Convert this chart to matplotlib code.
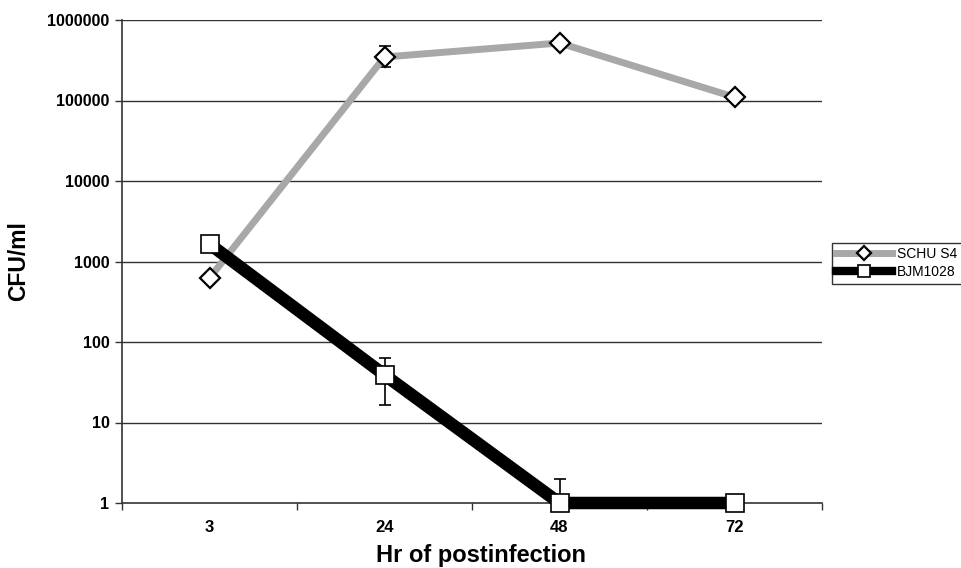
import matplotlib
matplotlib.use("Agg")
import matplotlib.pyplot as plt
import numpy as np

plt.rcParams['font.family'] = ['Liberation Sans', 'DejaVu Sans']

hours = ["3", "24", "48", "72"]
schu_vals = [624, 347000, 518000, 110000]
schu_err_lo = [0, 87000, 0, 0]
schu_err_hi = [0, 128000, 0, 0]
bjm_vals = [1650, 39, 1, 1]
bjm_err_lo = [0, 22.5, 0, 0]
bjm_err_hi = [0, 24, 1.0, 0]
yticks = [1, 10, 100, 1000, 10000, 100000, 1000000]

fig = plt.figure(figsize=(9.62, 5.68), dpi=100)
ax = fig.add_axes([122/962, 1-503/568, 700/962, 483/568])

x = np.arange(len(hours))
ax.set_yscale('log')
ax.set_ylim(1, 1e6)
ax.set_xlim(-0.5, len(hours)-0.5)

for yv in yticks[1:]:
    ax.axhline(yv, color='#333333', lw=1.0, zorder=1)

ax.errorbar(x, schu_vals, yerr=[schu_err_lo, schu_err_hi], fmt='none',
            ecolor='black', elinewidth=1.2, capsize=4.5, capthick=1.2, zorder=2)
ax.errorbar(x, bjm_vals, yerr=[bjm_err_lo, bjm_err_hi], fmt='none',
            ecolor='black', elinewidth=1.2, capsize=4.5, capthick=1.2, zorder=2)

l1, = ax.plot(x, schu_vals, color='#a8a8a8', lw=5, marker='D', ms=10.5,
              mfc='white', mec='black', mew=1.6, zorder=3, label='SCHU S4')
l2, = ax.plot(x, bjm_vals, color='black', lw=9, marker='s', ms=13,
              mfc='white', mec='black', mew=1.2, zorder=4, label='BJM1028')
l2.set_clip_on(False)
l1.set_clip_on(False)

ax.set_yticks(yticks)
ax.set_yticklabels([str(v) for v in yticks], fontsize=11.5, fontweight='bold')
ax.yaxis.set_minor_locator(matplotlib.ticker.NullLocator())
ax.tick_params(axis='y', direction='out', length=5, width=1, color='#333333', pad=4)

ax.set_xticks(np.arange(-0.5, len(hours), 1.0))
ax.set_xticklabels([])
ax.set_xticks(x, minor=True)
ax.set_xticklabels(hours, minor=True)
ax.tick_params(axis='x', which='major', direction='out', length=5, width=1, color='#333333')
ax.tick_params(axis='x', which='minor', length=0, pad=12, labelsize=12)
for t in ax.get_xticklabels(minor=True):
    t.set_fontweight('bold')

for s in ['top', 'right']:
    ax.spines[s].set_visible(False)
for s in ['left', 'bottom']:
    ax.spines[s].set_color('#333333')
    ax.spines[s].set_linewidth(1.2)

ax.set_xlabel('Hr of postinfection', fontsize=17, fontweight='bold')
ax.xaxis.label.set_va('baseline')
ax.xaxis.set_label_coords((481-122)/700, (503-562)/483)
ax.set_ylabel('CFU/ml', fontsize=16.5, fontweight='bold')
ax.yaxis.set_label_coords((30-122)/700, 0.5)

leg = fig.legend(handles=[l1, l2], loc='upper left',
                 bbox_to_anchor=(832/962, 1-243/568), fontsize=10,
                 frameon=True, fancybox=False, edgecolor='black',
                 handlelength=4.0, handletextpad=0.4, borderpad=0.3,
                 labelspacing=0.3, borderaxespad=0)
leg.get_frame().set_linewidth(1.0)
leg.legend_handles[0].set_markersize(7)
leg.legend_handles[1].set_markersize(9)
leg.legend_handles[0].set_linewidth(5)
leg.legend_handles[1].set_linewidth(6)

fig.savefig('out.png', dpi=100)
